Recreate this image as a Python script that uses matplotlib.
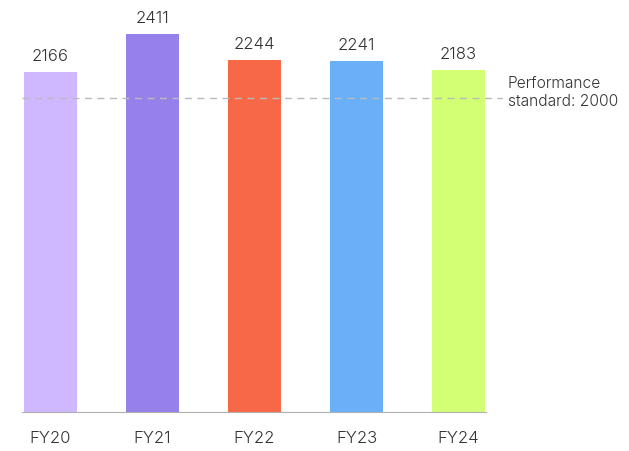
import matplotlib
matplotlib.use("Agg")
import matplotlib.pyplot as plt

years = ["FY20", "FY21", "FY22", "FY23", "FY24"]
scores = [2166, 2411, 2244, 2241, 2183]
colors = ["#cfb8ff", "#9680ea", "#f76846", "#6ab0f8", "#d2ff73"]
standard = 2000
standard_label = "Performance\nstandard: 2000"

plt.rcParams['font.family'] = ['Inter', 'DejaVu Sans']
plt.rcParams['font.weight'] = 300

fig = plt.figure(figsize=(6.29, 4.52), dpi=100)
ax = fig.add_axes([22 / 629, 39.5 / 452, 481 / 629, 412.5 / 452])

w = 0.52
x = list(range(len(years)))
bars = ax.bar(x, scores, width=w, color=colors, zorder=2)

for xi, v in zip(x, scores):
    ax.annotate(str(v), (xi, v), xytext=(0, 8.6), textcoords="offset points",
                ha="center", va="baseline", fontsize=12, color="#333333")

ax.axhline(standard, color="#bbbbbb", lw=1, ls=(0, (5, 4)), zorder=3)
ax.annotate(standard_label, (1, standard), xycoords=("axes fraction", "data"),
            xytext=(3.5, 5), textcoords="offset points", ha="left", va="center",
            fontsize=11.2, color="#333333", linespacing=1.2, annotation_clip=False)

ax.set_xlim(-0.28, 4.436)
ax.set_ylim(0, 2634)
ax.set_xticks(x)
ax.set_xticklabels(years, fontsize=12, color="#333333")
ax.set_yticks([])
ax.tick_params(axis="x", length=0, pad=13)
for s in ["top", "right", "left"]:
    ax.spines[s].set_visible(False)
ax.spines["bottom"].set_color("#b0b0b0")
ax.spines["bottom"].set_bounds(-0.28, 4 + w / 2 + 0.01)

fig.savefig("out.png", dpi=100)
